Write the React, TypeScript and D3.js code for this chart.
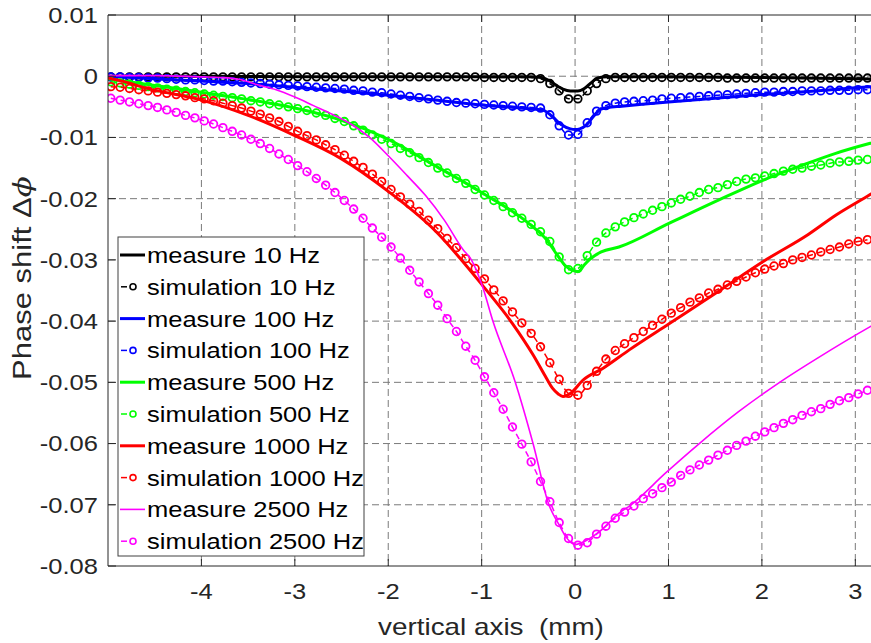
import React from 'react';
import * as d3 from 'd3';

// ---------- data ----------
const xTicks = [-4, -3, -2, -1, 0, 1, 2, 3];
const yTicks = [0.01, 0, -0.01, -0.02, -0.03, -0.04, -0.05, -0.06, -0.07, -0.08];
const yTickLabels = ['0.01', '0', '-0.01', '-0.02', '-0.03', '-0.04', '-0.05', '-0.06', '-0.07', '-0.08'];

// simulation sample positions (mm)
const simX = d3.range(82).map((i) => -4.97 + 0.1 * i);

const sim10 = [
  -0.0001, -0.0001, -0.0001, -0.0001, -0.0001, -0.0001, -0.0001, -0.0001, -0.0001, -0.0001,
  -0.0001, -0.0001, -0.0001, -0.0001, -0.0001, -0.0001, -0.0001, -0.0001, -0.0001, -0.0001,
  -0.0001, -0.0001, -0.0001, -0.0001, -0.0001, -0.0001, -0.0001, -0.0001, -0.0001, -0.0001,
  -0.0001, -0.0001, -0.0001, -0.0001, -0.0001, -0.0001, -0.0001, -0.0001, -0.0001, -0.0001,
  -0.0002, -0.0002, -0.0002, -0.0002, -0.0002, -0.0002,
  -0.0004, -0.0012, -0.0024, -0.0037, -0.0037, -0.0024, -0.0012, -0.0004,
  -0.0002, -0.0002, -0.0002, -0.0002, -0.0002, -0.0002, -0.0002, -0.0002, -0.0002, -0.0002, -0.0002, -0.0002,
  -0.0003, -0.0003, -0.0003, -0.0003, -0.0003, -0.0003, -0.0003, -0.0003,
  -0.0003, -0.0003, -0.0003, -0.0003, -0.0003, -0.0003, -0.0003, -0.0003,
];

const sim100 = [
  -0.0001, -0.0001, -0.0002, -0.0002, -0.0003, -0.0003, -0.0004, -0.0005, -0.0006, -0.0006,
  -0.0007, -0.0008, -0.0008, -0.0009, -0.0010, -0.0011, -0.0012, -0.0013, -0.0014, -0.0015,
  -0.0016, -0.0017, -0.0018, -0.0019, -0.0020, -0.0021, -0.0023, -0.0024, -0.0026, -0.0027,
  -0.0029, -0.0031, -0.0033, -0.0035, -0.0037, -0.0039, -0.0041, -0.0043, -0.0044, -0.0045,
  -0.0046, -0.0047, -0.0048, -0.0049, -0.0050, -0.0051, -0.0052, -0.0063, -0.0081, -0.0096,
  -0.0095, -0.0076, -0.0057, -0.0048, -0.0044, -0.0042, -0.0041, -0.0040, -0.0039, -0.0037,
  -0.0036, -0.0035, -0.0034, -0.0033, -0.0032, -0.0031, -0.0030, -0.0029, -0.0028, -0.0027,
  -0.0026, -0.0026, -0.0025, -0.0025, -0.0024, -0.0024, -0.0024, -0.0023, -0.0023, -0.0023,
  -0.0022, -0.0022,
];

const sim500 = [
  -0.0009, -0.0011, -0.0013, -0.0015, -0.0017, -0.0019, -0.0021, -0.0023, -0.0025, -0.0027,
  -0.0029, -0.0031, -0.0033, -0.0035, -0.0037, -0.0040, -0.0042, -0.0045, -0.0047, -0.0050,
  -0.0053, -0.0056, -0.0060, -0.0064, -0.0069, -0.0074, -0.0081, -0.0088, -0.0096, -0.0103,
  -0.0110, -0.0118, -0.0125, -0.0133, -0.0141, -0.0150, -0.0158, -0.0167, -0.0175, -0.0185,
  -0.0194, -0.0203, -0.0213, -0.0223, -0.0232, -0.0242, -0.0254, -0.0270, -0.0295, -0.0316,
  -0.0314, -0.0293, -0.0271, -0.0256, -0.0246, -0.0238, -0.0231, -0.0225, -0.0219, -0.0213,
  -0.0207, -0.0201, -0.0196, -0.0190, -0.0185, -0.0182, -0.0177, -0.0172, -0.0168, -0.0166,
  -0.0163, -0.0159, -0.0155, -0.0152, -0.0150, -0.0147, -0.0145, -0.0142, -0.0140, -0.0139,
  -0.0137, -0.0136,
];

const sim1000 = [
  -0.0017, -0.0018, -0.0020, -0.0022, -0.0024, -0.0026, -0.0028, -0.0030, -0.0032, -0.0035,
  -0.0037, -0.0040, -0.0044, -0.0048, -0.0052, -0.0057, -0.0062, -0.0068, -0.0074, -0.0082,
  -0.0090, -0.0097, -0.0104, -0.0112, -0.0120, -0.0129, -0.0139, -0.0149, -0.0160, -0.0172,
  -0.0185, -0.0197, -0.0209, -0.0221, -0.0235, -0.0249, -0.0265, -0.0280, -0.0298, -0.0314,
  -0.0331, -0.0349, -0.0367, -0.0385, -0.0403, -0.0420, -0.0442, -0.0468, -0.0495, -0.0518,
  -0.0521, -0.0505, -0.0482, -0.0462, -0.0448, -0.0437, -0.0427, -0.0417, -0.0407, -0.0397,
  -0.0387, -0.0378, -0.0369, -0.0362, -0.0354, -0.0348, -0.0341, -0.0335, -0.0328, -0.0321,
  -0.0315, -0.0310, -0.0306, -0.0300, -0.0296, -0.0292, -0.0287, -0.0283, -0.0279, -0.0274,
  -0.0270, -0.0267,
];

const sim2500 = [
  -0.0036, -0.0039, -0.0042, -0.0045, -0.0048, -0.0051, -0.0055, -0.0059, -0.0064, -0.0068,
  -0.0073, -0.0078, -0.0084, -0.0090, -0.0096, -0.0103, -0.0110, -0.0118, -0.0127, -0.0136,
  -0.0146, -0.0156, -0.0167, -0.0178, -0.0190, -0.0203, -0.0217, -0.0232, -0.0248, -0.0263,
  -0.0279, -0.0297, -0.0317, -0.0336, -0.0355, -0.0374, -0.0396, -0.0417, -0.0441, -0.0464,
  -0.0491, -0.0517, -0.0544, -0.0573, -0.0601, -0.0630, -0.0662, -0.0695, -0.0729, -0.0755,
  -0.0766, -0.0762, -0.0748, -0.0735, -0.0722, -0.0712, -0.0702, -0.0690, -0.0682, -0.0672,
  -0.0663, -0.0652, -0.0643, -0.0635, -0.0627, -0.0619, -0.0611, -0.0603, -0.0596, -0.0588,
  -0.0581, -0.0574, -0.0567, -0.0561, -0.0554, -0.0548, -0.0543, -0.0536, -0.0530, -0.0525,
  -0.0519, -0.0513,
];

const meas10X = [-5, -4, -3, -2, -1, -0.5, -0.36, -0.28, -0.2, -0.13, -0.05, 0.03, 0.1, 0.17, 0.24, 0.35, 1, 2, 3, 3.3];
const meas10Y = [0, 0, -0.0001, -0.0001, -0.0001, -0.0001, -0.0002, -0.0007, -0.0015, -0.0021, -0.0024, -0.0024, -0.002, -0.0011, -0.0003, -0.0001, -0.0001, -0.0002, -0.0004, -0.0005];

const meas100X = [-5, -4.5, -4, -3.5, -3, -2.5, -2, -1.5, -1, -0.5, -0.35, -0.25, -0.15, -0.05, 0, 0.05, 0.12, 0.2, 0.27, 0.35, 0.5, 1, 1.5, 2, 2.5, 3, 3.3];
const meas100Y = [0, -0.0004, -0.0008, -0.0012, -0.0018, -0.0024, -0.0031, -0.0039, -0.0047, -0.0053, -0.0055, -0.0065, -0.0079, -0.0086, -0.0087, -0.0086, -0.008, -0.0065, -0.0054, -0.0051, -0.0049, -0.0042, -0.0036, -0.003, -0.0025, -0.0019, -0.0016];

const meas500X = [-5, -4.5, -4, -3.5, -3, -2.5, -2, -1.5, -1, -0.5, -0.3, -0.2, -0.1, 0.03, 0.1, 0.15, 0.28, 0.47, 1.01, 1.54, 2.01, 2.44, 2.79, 3.15, 3.3];
const meas500Y = [-0.0004, -0.0015, -0.0026, -0.0038, -0.0052, -0.0072, -0.0103, -0.0146, -0.019, -0.024, -0.0268, -0.029, -0.031, -0.0319, -0.0308, -0.03, -0.0287, -0.0279, -0.024, -0.0202, -0.017, -0.0145, -0.0126, -0.011, -0.0104];

const meas1000X = [-5, -4.8, -4.6, -4.4, -4.2, -4, -3.5, -3, -2.5, -2, -1.5, -1, -0.67, -0.45, -0.3, -0.24, -0.18, -0.13, -0.04, 0.08, 0.3, 0.58, 1.01, 1.5, 2.01, 2.5, 2.79, 3.15, 3.3];
const meas1000Y = [-0.0003, -0.001, -0.0019, -0.0026, -0.0032, -0.0039, -0.0064, -0.0097, -0.0135, -0.0188, -0.0252, -0.034, -0.0404, -0.0455, -0.0495, -0.051, -0.0519, -0.0523, -0.0517, -0.0497, -0.0477, -0.0447, -0.0404, -0.0355, -0.0303, -0.0258, -0.0227, -0.0194, -0.018];

const meas2500X = [-5, -4.5, -4, -3.8, -3.6, -3.4, -3.2, -3, -2.8, -2.6, -2.4, -2.2, -2, -1.8, -1.6, -1.4, -1.2, -1.11, -0.99, -0.88, -0.64, -0.45, -0.28, -0.17, -0.1, -0.04, 0, 0.1, 0.26, 0.47, 0.6, 0.97, 1.33, 1.75, 2.19, 2.6, 3.16, 3.3];
const meas2500Y = [0.0001, 0.0001, -0.0001, -0.0002, -0.0005, -0.0014, -0.0022, -0.0034, -0.0048, -0.0062, -0.0078, -0.01, -0.013, -0.0162, -0.0195, -0.0235, -0.0283, -0.03, -0.0344, -0.04, -0.05, -0.06, -0.07, -0.0733, -0.0752, -0.0762, -0.0765, -0.076, -0.0744, -0.0714, -0.07, -0.0648, -0.06, -0.0548, -0.05, -0.046, -0.0409, -0.0397];

const legendLabels = [
  'measure 10 Hz', 'simulation 10 Hz', 'measure 100 Hz', 'simulation 100 Hz',
  'measure 500 Hz', 'simulation 500 Hz', 'measure 1000 Hz', 'simulation 1000 Hz',
  'measure 2500 Hz', 'simulation 2500 Hz',
];
const colors = ['#000000', '#0000ff', '#00ff00', '#ff0000', '#ff00ff'];

// ---------- layout ----------
const W = 871;
const H = 643;
const L = 108;
const R = 874;
const T = 15;
const B = 566;
const FONT = "'Liberation Sans', Arial, Helvetica, sans-serif";
const TXT = '#262626';
const SX = 1.16;

const x = d3.scaleLinear().domain([-5, 3.2]).range([L, R]);
const y = d3.scaleLinear().domain([-0.08, 0.01]).range([B, T]);

type Series = { kind: 'm' | 's'; xs: number[]; ys: number[]; color: string; width: number };

const series: Series[] = [
  { kind: 'm', xs: meas10X, ys: meas10Y, color: colors[0], width: 3 },
  { kind: 's', xs: simX, ys: sim10, color: colors[0], width: 1.5 },
  { kind: 'm', xs: meas100X, ys: meas100Y, color: colors[1], width: 3 },
  { kind: 's', xs: simX, ys: sim100, color: colors[1], width: 1.5 },
  { kind: 'm', xs: meas500X, ys: meas500Y, color: colors[2], width: 3 },
  { kind: 's', xs: simX, ys: sim500, color: colors[2], width: 1.5 },
  { kind: 'm', xs: meas1000X, ys: meas1000Y, color: colors[3], width: 3 },
  { kind: 's', xs: simX, ys: sim1000, color: colors[3], width: 1.5 },
  { kind: 'm', xs: meas2500X, ys: meas2500Y, color: colors[4], width: 1.6 },
  { kind: 's', xs: simX, ys: sim2500, color: colors[4], width: 1.5 },
];

const line = d3
  .line<[number, number]>()
  .x((d) => x(d[0]))
  .y((d) => y(d[1]))
  .curve(d3.curveMonotoneX);

export default function App() {
  const legX = 118;
  const legY = 237;
  const legW = 246;
  const legH = 319;
  const rowY0 = 255;
  const rowDY = 31.8;

  return (
    <svg
      width={W}
      height={H}
      viewBox={`0 0 ${W} ${H}`}
      style={{ position: 'absolute', left: 0, top: 0, background: '#fff' }}
      fontFamily={FONT}
    >
      <rect x={0} y={0} width={W} height={H} fill="#fff" />
      <defs>
        <clipPath id="plotClip">
          <rect x={L} y={T - 4} width={R - L} height={B - T + 8} />
        </clipPath>
      </defs>

      {/* grid */}
      <g stroke="#7a7a7a" strokeWidth={1} strokeDasharray="7,4" fill="none">
        {xTicks.map((t) => (
          <line key={'gx' + t} x1={x(t)} x2={x(t)} y1={T} y2={B} />
        ))}
        {yTicks.slice(1, -1).map((t) => (
          <line key={'gy' + t} x1={L} x2={R} y1={y(t)} y2={y(t)} />
        ))}
      </g>

      {/* data */}
      <g clipPath="url(#plotClip)">
        {series.map((s, i) => {
          const pts: [number, number][] = s.xs.map((v, k) => [v, s.ys[k]]);
          return (
            <g key={'s' + i}>
              <path
                d={line(pts) || ''}
                fill="none"
                stroke={s.color}
                strokeWidth={s.width}
                strokeDasharray={s.kind === 's' ? '6,4' : undefined}
                strokeLinejoin="round"
              />
              {s.kind === 's' &&
                pts.map((p, k) => (
                  <circle
                    key={k}
                    cx={x(p[0])}
                    cy={y(p[1])}
                    r={3.8}
                    fill="none"
                    stroke={s.color}
                    strokeWidth={1.8}
                  />
                ))}
            </g>
          );
        })}
      </g>

      {/* axes box */}
      <g stroke={TXT} strokeWidth={1} fill="none">
        <line x1={L} x2={L} y1={T} y2={B} />
        <line x1={L} x2={R} y1={B} y2={B} />
        <line x1={L} x2={R} y1={T} y2={T} />
        {yTicks.map((t) => (
          <line key={'ty' + t} x1={L} x2={L + 8} y1={y(t)} y2={y(t)} />
        ))}
        {xTicks.map((t) => (
          <g key={'tx' + t}>
            <line x1={x(t)} x2={x(t)} y1={B} y2={B - 7} />
            <line x1={x(t)} x2={x(t)} y1={T} y2={T + 7} />
          </g>
        ))}
      </g>

      {/* tick labels */}
      <g fill={TXT} fontSize={22}>
        {yTicks.map((t, i) => (
          <text
            key={'yl' + t}
            transform={`translate(98,${y(t)}) scale(${SX},1)`}
            textAnchor="end"
            dy="0.36em"
          >
            {yTickLabels[i]}
          </text>
        ))}
        {xTicks.map((t) => (
          <text
            key={'xl' + t}
            transform={`translate(${x(t)},599) scale(${SX},1)`}
            textAnchor="middle"
          >
            {String(t)}
          </text>
        ))}
      </g>

      {/* axis labels */}
      <text
        fill={TXT}
        fontSize={24}
        transform={`translate(491,635) scale(${SX},1)`}
        textAnchor="middle"
        style={{ whiteSpace: 'pre' }}
      >
        {'vertical axis  (mm)'}
      </text>
      <text
        fill={TXT}
        fontSize={25}
        transform={`translate(31,278) rotate(-90) scale(1.24,1)`}
        textAnchor="middle"
      >
        Phase shift Δ<tspan fontStyle="italic" fontFamily="'DejaVu Serif', serif">ϕ</tspan>
      </text>

      {/* legend */}
      <g>
        <rect x={legX} y={legY} width={legW} height={legH} fill="#fff" stroke="#404040" strokeWidth={1} />
        {legendLabels.map((lab, i) => {
          const cy = rowY0 + i * rowDY;
          const c = colors[Math.floor(i / 2)];
          const isSim = i % 2 === 1;
          const mw = i === 8 ? 1.6 : 3;
          return (
            <g key={'lg' + i}>
              {isSim ? (
                <g>
                  <line x1={121} x2={127} y1={cy} y2={cy} stroke={c} strokeWidth={1.5} />
                  <circle cx={133} cy={cy} r={3} fill="none" stroke={c} strokeWidth={1.6} />
                </g>
              ) : (
                <line x1={120} x2={145} y1={cy} y2={cy} stroke={c} strokeWidth={mw} />
              )}
              <text
                transform={`translate(147,${cy}) scale(${SX},1)`}
                dy="0.36em"
                fontSize={22}
                fill="#000"
              >
                {lab}
              </text>
            </g>
          );
        })}
      </g>
    </svg>
  );
}
